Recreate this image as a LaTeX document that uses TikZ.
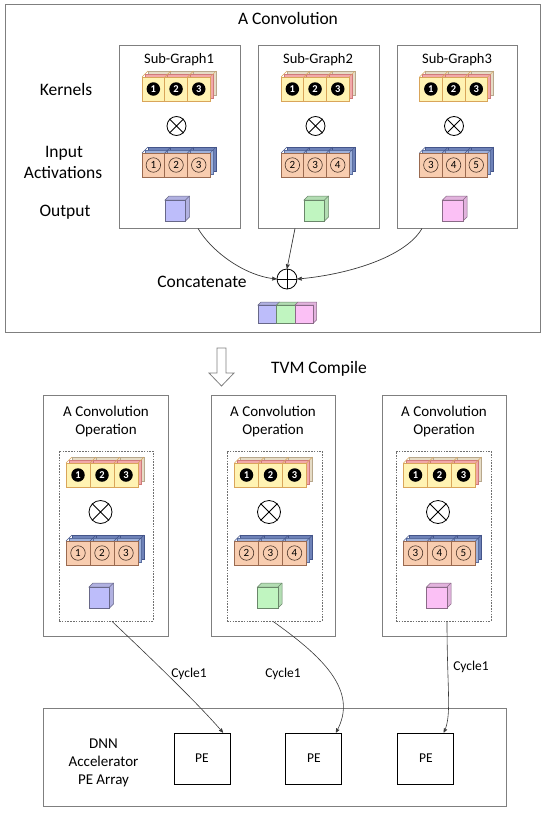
\documentclass[tikz,border=0pt]{standalone}
\usepackage{fontspec}
\setmainfont{Carlito}
\usepackage{xcolor}
\usetikzlibrary{arrows,positioning}

\definecolor{boxgray}{HTML}{7F7F7F}
\definecolor{dashgray}{HTML}{707070}
\definecolor{linkgray}{HTML}{3A3A3A}
\definecolor{kback}{HTML}{E6DCC6}
\definecolor{kbackline}{HTML}{B8A88C}
\definecolor{kmid}{HTML}{F2A9A9}
\definecolor{kmidline}{HTML}{CF7A7A}
\definecolor{kfront}{HTML}{FFF3B3}
\definecolor{kfrontline}{HTML}{D9A55A}
\definecolor{iback}{HTML}{6E82B8}
\definecolor{ibackline}{HTML}{44558A}
\definecolor{imid}{HTML}{9DB0DA}
\definecolor{imidline}{HTML}{5A6EA0}
\definecolor{ifront}{HTML}{F8CDB0}
\definecolor{ifrontline}{HTML}{9A6A50}
\definecolor{inumline}{HTML}{4A3428}
\definecolor{oblue}{HTML}{BDBDFA}
\definecolor{ogreen}{HTML}{C0F5C0}
\definecolor{opink}{HTML}{FBC0F5}

\begin{document}
\begin{tikzpicture}[>=stealth', x=1pt, y=-1pt]
	\tikzstyle{gbox} = [rectangle, draw = boxgray, line width = 0.9pt, inner sep = 0pt]
	\tikzstyle{dbox} = [rectangle, draw = dashgray, line width = 0.7pt, dash pattern = on 1.6pt off 1.2pt, inner sep = 0pt]
	\tikzstyle{pebox} = [rectangle, draw = black, line width = 0.9pt, minimum width = 56pt, minimum height = 51pt, font = \fontsize{13.5}{16}\selectfont]
	\tikzstyle{big} = [anchor = base, inner sep = 0pt, font = \fontsize{17.5}{21}\selectfont]
	\tikzstyle{lbl} = [anchor = base, inner sep = 0pt, font = \fontsize{15}{18}\selectfont]
	\tikzstyle{sgt} = [anchor = base, inner sep = 0pt, font = \fontsize{14.5}{17}\selectfont]
	\tikzstyle{cyc} = [anchor = base, inner sep = 0pt, font = \fontsize{13.5}{16}\selectfont]
	\tikzstyle{mul} = [circle, draw = black, line width = 0.8pt, inner sep = 0pt]
	\tikzstyle{knum} = [circle, fill = black, text = white, inner sep = 0pt, minimum size = 13.5pt, font = \fontsize{10.5}{11}\selectfont\bfseries]
	\tikzstyle{inum} = [circle, draw = inumline, line width = 0.6pt, inner sep = 0pt, minimum size = 14.5pt, font = \fontsize{11}{12}\selectfont]
	\tikzstyle{link} = [->, draw = linkgray, line width = 0.7pt]
	\useasboundingbox (0,0) rectangle (550,814);

	% top part: the convolution split into sub-graphs
	\node [gbox, minimum width = 535pt, minimum height = 328pt] (CONV) at (272.5,168) {};
	\node [big] (CONVt) at (288,24) {A Convolution};
	\node [gbox, minimum width = 121pt, minimum height = 183pt] (SG1) at (179.5,136.5) {};
	\node [gbox, minimum width = 121pt, minimum height = 183pt] (SG2) at (318.5,136.5) {};
	\node [gbox, minimum width = 120pt, minimum height = 183pt] (SG3) at (457,136.5) {};
	\node [sgt] (SG1t) at (179,63) {Sub-Graph1};
	\node [sgt] (SG2t) at (318,63) {Sub-Graph2};
	\node [sgt] (SG3t) at (457,63) {Sub-Graph3};
	\node [big] (KER) at (66,95) {Kernels};
	\node [big] (INP) at (64,157) {Input};
	\node [big] (ACT) at (63,178) {Activations};
	\node [big] (OUT) at (65,216) {Output};

	% bottom part: compiled operations and the PE array
	\node [gbox, minimum width = 125pt, minimum height = 241pt] (OP1) at (105.5,515.5) {};
	\node [gbox, minimum width = 124pt, minimum height = 241pt] (OP2) at (273,515.5) {};
	\node [gbox, minimum width = 124pt, minimum height = 241pt] (OP3) at (444,515.5) {};
	\node [dbox, minimum width = 94pt, minimum height = 170pt] (D1) at (106,536) {};
	\node [dbox, minimum width = 95pt, minimum height = 170pt] (D2) at (274.5,536) {};
	\node [dbox, minimum width = 95pt, minimum height = 170pt] (D3) at (443.5,536) {};
	\foreach \cx [count = \g] in {106,273,444} {
		\node [lbl] (OTa\g) at (\cx,416) {A Convolution};
		\node [lbl] (OTb\g) at (\cx,434) {Operation};
	}
	\node [gbox, minimum width = 463pt, minimum height = 98pt] (ACC) at (274.5,757) {};
	\node [lbl] (ACCa) at (103.5,748) {DNN};
	\node [lbl] (ACCb) at (103.5,766) {Accelerator};
	\node [lbl] (ACCc) at (103.5,784) {PE Array};
	\node [pebox] (PE1) at (202,758.5) {PE};
	\node [pebox, right = 55pt of PE1] (PE2) {PE};
	\node [pebox, right = 55pt of PE2] (PE3) {PE};

	% kernel and input cube rows
	\foreach \lx/\ty/\cw/\gap/\s/\ms [count = \g] in {142/77/22.7/76/1/19pt, 281/77/22.7/76/2/19pt, 419.5/77/22.7/76/3/19pt, 66/463/24/78/1/23pt, 234.5/463/24/78/2/23pt, 403.5/463/24/78/3/23pt} {
		\foreach \dd/\ff/\ee in {6/kback/kbackline, 3/kmid/kmidline, 0/kfront/kfrontline}
			\foreach \ii in {0,1,2}
				\draw [fill = \ff, draw = \ee, line width = 0.5pt] (\lx+\ii*\cw+\dd, \ty-\dd) rectangle ++(\cw, 24);
		\foreach \ii in {0,1,2,3}
			\draw [draw = kfrontline, line width = 0.5pt] (\lx+\ii*\cw, \ty) -- ++(6, -6);
		\foreach \ii [count = \nn] in {0,1,2}
			\node [knum] (K\g-\nn) at (\lx+\ii*\cw+\cw/2, \ty+12) {\nn};
		\node [mul, minimum size = \ms] (M\g) at (\lx+34.5, \ty+49) {};
		\draw [line width = 0.8pt] (M\g.north east) -- (M\g.south west) (M\g.north west) -- (M\g.south east);
		\foreach \dd/\ff/\ee in {6/iback/ibackline, 3/imid/imidline, 0/ifront/ifrontline}
			\foreach \ii in {0,1,2}
				\draw [fill = \ff, draw = \ee, line width = 0.5pt] (\lx+\ii*\cw+\dd, \ty+\gap-\dd) rectangle ++(\cw, 24);
		\foreach \ii in {0,1,2,3}
			\draw [draw = ibackline, line width = 0.5pt] (\lx+\ii*\cw, \ty+\gap) -- ++(6, -6);
		\foreach \ii [count = \nn] in {0,1,2} {
			\pgfmathtruncatemacro{\m}{\s+\ii}
			\node [inum] (I\g-\nn) at (\lx+\ii*\cw+\cw/2, \ty+\gap+12) {\m};
		}
	}

	% output cubes
	\foreach \ox/\oy/\cc in {165/200/oblue, 304/200/ogreen, 442.5/200/opink, 89/587/oblue, 257.5/587/ogreen, 426.5/587/opink} {
		\draw [fill = \cc!80!gray, draw = \cc!55!black, line width = 0.5pt] (\ox, \oy) -- ++(4, -4) -- ++(20.5, 0) -- ++(0, 21) -- ++(-4, 4) -- ++(0, -21) -- cycle;
		\draw [draw = \cc!55!black, line width = 0.5pt] (\ox+20.5, \oy) -- ++(4, -4);
		\draw [fill = \cc, draw = \cc!55!black, line width = 0.5pt] (\ox, \oy) rectangle ++(20.5, 21);
	}

	% concatenated result
	\foreach \ii/\cc in {0/oblue, 1/ogreen, 2/opink} {
		\draw [fill = \cc!80!gray, draw = \cc!55!black, line width = 0.5pt] (258+\ii*18.5, 305) -- ++(3, -3) -- ++(18.5, 0) -- ++(0, 18) -- ++(-3, 3) -- ++(0, -18) -- cycle;
		\draw [fill = \cc, draw = \cc!55!black, line width = 0.5pt] (258+\ii*18.5, 305) rectangle ++(18.5, 18);
	}
	\node [mul, minimum size = 20pt] (CAT) at (287,279) {};
	\draw [line width = 0.8pt] (CAT.north) -- (CAT.south) (CAT.west) -- (CAT.east);
	\node [big] (CATt) at (202,287) {Concatenate};

	\draw [link] ([xshift = 18.5pt]SG1.south) .. controls (212,252) and (245,276) .. (CAT.west);
	\draw [link] ([xshift = -23.5pt]SG2.south) -- (CAT.north);
	\draw [link] ([xshift = -35pt]SG3.south) .. controls (405,258) and (345,275) .. (CAT.east);

	% compile step
	\draw [draw = boxgray, line width = 0.8pt, fill = white] (217,348) -- (226,348) -- (226,373) -- (234,373) -- (221.5,386) -- (209,373) -- (217,373) -- cycle;
	\node [big] (TVM) at (319,373) {TVM Compile};

	% mapping onto the PEs
	\draw [link, line width = 0.6pt] ([xshift = 6pt]D1.south) .. controls (140,648) and (195,700) .. ([xshift = 21pt]PE1.north);
	\draw [link, line width = 0.6pt] ([xshift = -1.5pt]D2.south) .. controls (320,655) and (360,690) .. ([xshift = 22pt]PE2.north);
	\draw [link, line width = 0.6pt] ([xshift = 3.5pt]D3.south) .. controls (447,690) and (452,715) .. ([xshift = 18pt]PE3.north);
	\node [cyc] (C1) at (189,677) {Cycle1};
	\node [cyc] (C2) at (283,677) {Cycle1};
	\node [cyc] (C3) at (471,670) {Cycle1};
\end{tikzpicture}
\end{document}
